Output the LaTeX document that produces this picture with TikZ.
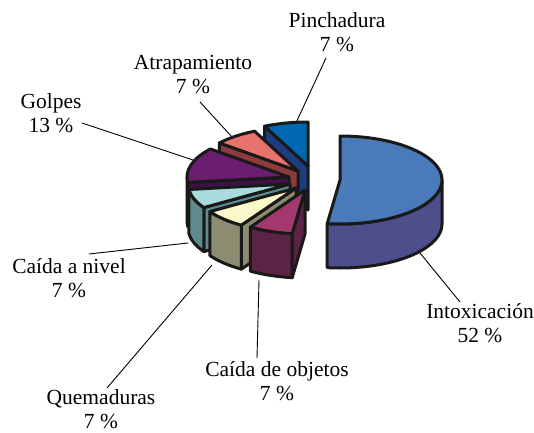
\documentclass[tikz,border=0pt]{standalone}
\usepackage{fontspec}
\setmainfont{Liberation Serif}
\definecolor{intoxT}{HTML}{4A7ABA}
\definecolor{intoxS}{HTML}{4D4E8C}
\definecolor{pinchT}{HTML}{0068B0}
\definecolor{pinchS}{HTML}{1E3C80}
\definecolor{atrapT}{HTML}{E8736C}
\definecolor{atrapS}{HTML}{8E3B3F}
\definecolor{golpT}{HTML}{6B1D70}
\definecolor{golpS}{HTML}{421048}
\definecolor{nivelT}{HTML}{A8DCDC}
\definecolor{nivelS}{HTML}{5E8C8E}
\definecolor{quemT}{HTML}{FAF8C8}
\definecolor{quemS}{HTML}{8C8C70}
\definecolor{objT}{HTML}{A3386E}
\definecolor{objS}{HTML}{5C2444}
\begin{document}
\begin{tikzpicture}[x=1pt, y=1pt,
    slice/.style={draw=black!90, line width=3pt, line join=round},
    lead/.style={draw=black, line width=0.9pt},
    lbl/.style={align=center, anchor=base, font=\fontsize{21.5}{24}\selectfont}]
\useasboundingbox (0,0) rectangle (534,432);
% centres of the exploded slices
\coordinate (pin) at (308,266);
\coordinate (atr) at (298,261);
\coordinate (gol) at (289,255);
\coordinate (niv) at (290,248);
\coordinate (que) at (296,244);
\coordinate (obj) at (305,242);
\coordinate (int) at (340,252);
% labels (anchor on the baseline of the last line)
\node[lbl] (lpin) at (337,380) {Pinchadura\\7 \%};
\node[lbl] (latr) at (193,339) {Atrapamiento\\7 \%};
\node[lbl] (lgol) at (51,300) {Golpes\\13 \%};
\node[lbl] (lniv) at (69,135) {Caída a nivel\\7 \%};
\node[lbl] (lque) at (101,4) {Quemaduras\\7 \%};
\node[lbl] (lobj) at (277,32) {Caída de objetos\\7 \%};
\node[lbl] (lint) at (480,90) {Intoxicación\\52 \%};
% leader lines
\coordinate (pin-l) at (326,374); \coordinate (pin-s) at (295,307);
\coordinate (atr-l) at (200,330); \coordinate (atr-s) at (232,295);
\coordinate (gol-l) at (82,309);  \coordinate (gol-s) at (193,272);
\coordinate (niv-l) at (89,178);  \coordinate (niv-s) at (188,189);
\coordinate (que-l) at (107,44);  \coordinate (que-s) at (212,167);
\coordinate (obj-l) at (257,74);  \coordinate (obj-s) at (259,152);
\coordinate (int-l) at (460,130); \coordinate (int-s) at (420,179);
\foreach \n in {pin,atr,gol,niv,que,obj,int}
{
    \draw[lead] (\n-l) -- (\n-s);
}
% slices, back to front
\foreach \pos/\st/\en/\vs/\ve/\col in {pin/90/115.2/115.2/115.2/pinch,
    atr/115.2/140.4/140.4/140.4/atrap, gol/140.4/187.2/180/187.2/golp,
    niv/187.2/212.4/187.2/212.4/nivel, que/212.4/237.6/212.4/237.6/quem,
    obj/237.6/262.8/237.6/262.8/obj, int/-97.2/90/-97.2/0/intox}
{
    \begin{scope}[shift={(\pos)}]
    \pgfmathparse{cos(\en)<-0.01 ? 1 : 0}
    \ifdim\pgfmathresult pt>0.5pt
        \filldraw[slice, fill=\col S] (0,0) -- (\en:102 and 44) -- ++(0,-44) -- (0,-44) -- cycle;
    \fi
    \pgfmathparse{\ve>\vs ? 1 : 0}
    \ifdim\pgfmathresult pt>0.5pt
        \filldraw[slice, fill=\col S] (\vs:102 and 44) arc[start angle=\vs, end angle=\ve, x radius=102, y radius=44]
            -- ++(0,-44) arc[start angle=\ve, end angle=\vs, x radius=102, y radius=44] -- cycle;
    \fi
    \filldraw[slice, fill=\col T] (0,0) -- (\st:102 and 44) arc[start angle=\st, end angle=\en, x radius=102, y radius=44] -- cycle;
    \end{scope}
}
\end{tikzpicture}
\end{document}
